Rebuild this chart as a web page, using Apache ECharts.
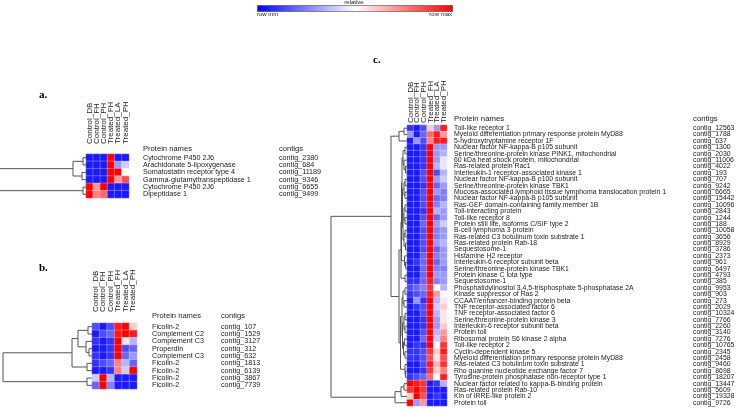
<!DOCTYPE html>
<html><head><meta charset="utf-8">
<script src="https://cdn.jsdelivr.net/npm/echarts@6/dist/echarts.min.js"></script>
<style>html,body{margin:0;padding:0;background:#fff}#c{width:745px;height:410px}</style>
</head><body><div id="c"></div>
<script>
const columns = ['Control_DB','Control_FH','Control_PH','Treated_FH','Treated_LA','Treated_PH'];

// Panel a
const proteinsA = ['Cytochrome P450 2J6','Arachidonate 5-lipoxygenase','Somatostatin receptor type 4','Gamma-glutamyltranspeptidase 1','Cytochrome P450 2J6','Dipeptidase 1'];
const contigsA = ['contig_2380','contig_684','contig_11189','contig_9346','contig_6655','contig_9499'];
const valuesA = [
  [0.05,0.05,0.05,1,0.05,0.05],
  [0.05,0.05,0.05,1,0.3,0.4],
  [0.05,0.05,0.05,1,1,0.5],
  [0.05,0.05,0.05,1,0.7,0.85],
  [1,0.7,1,0.05,0.05,0.05],
  [1,0.75,0.8,0.05,0.05,0.05]
];
const treeA = [100, [13,[3,0,1],[4,2,3]], [3,4,5]];

// Panel b
const proteinsB = ['Ficolin-2','Complement C2','Complement C3','Properdin','Complement C3','Ficolin-2','Ficolin-2','Ficolin-2','Ficolin-2'];
const contigsB = ['contig_107','contig_1529','contig_3127','contig_312','contig_632','contig_1813','contig_6139','contig_3867','contig_7739'];
const valuesB = [
  [0.15,0.05,0.15,0.95,1,0.6],
  [0.05,0.15,0.2,0.95,1,0.95],
  [0.1,0.05,0.1,1,0.55,0.35],
  [0.05,0.05,0.1,1,0.15,0.2],
  [0.1,0.05,0.1,1,0.2,0.3],
  [0.1,0.15,0.2,0.75,0.35,0.2],
  [0.05,0.05,0.1,0.75,0.4,1],
  [0.4,1,0.35,0.05,0.05,0.05],
  [0.2,1,0.25,0.05,0.05,0.05]
];
const treeB = [89, [20, [14, [4,0,1], [6,2,[3,3,4]]], [5,5,6]], [5,7,8]];

// Panel c
const proteinsC = ['Toll-like receptor 1','Myeloid differentiation primary response protein MyD88','5-hydroxytryptamine receptor 1F','Nuclear factor NF-kappa-B p105 subunit','Serine/threonine-protein kinase PINK1, mitochondrial','60 kDa heat shock protein, mitochondrial','Ras-related protein Rac1','Interleukin-1 receptor-associated kinase 1','Nuclear factor NF-kappa-B p100 subunit','Serine/threonine-protein kinase TBK1','Mucosa-associated lymphoid tissue lymphoma translocation protein 1','Nuclear factor NF-kappa-B p105 subunit','Ras-GEF domain-containing family member 1B','Toll-interacting protein','Toll-like receptor 8','Protein still life, isoforms C/SIF type 2','B-cell lymphoma 3 protein','Ras-related C3 botulinum toxin substrate 1','Ras-related protein Rab-18','Sequestosome-1','Histamine H2 receptor','Interleukin-6 receptor subunit beta','Serine/threonine-protein kinase TBK1','Protein kinase C iota type','Sequestosome-1','Phosphatidylinositol 3,4,5-trisphosphate 5-phosphatase 2A','Kinase suppressor of Ras 2','CCAAT/enhancer-binding protein beta','TNF receptor-associated factor 6','TNF receptor-associated factor 6','Serine/threonine-protein kinase 3','Interleukin-6 receptor subunit beta','Protein toll','Ribosomal protein S6 kinase 2 alpha','Toll-like receptor 2','Cyclin-dependent kinase 5','Myeloid differentiation primary response protein MyD88','Ras-related C3 botulinum toxin substrate 1','Rho guanine nucleotide exchange factor 7','Tyrosine-protein phosphatase non-receptor type 1','Nuclear factor related to kappa-B-binding protein','Ras-related protein Rab-10','Kin of IRRE-like protein 2','Protein toll'];
const contigsC = ['contig_12563','contig_1788','contig_637','contig_1300','contig_2030','contig_11006','contig_4022','contig_193','contig_707','contig_9242','contig_6665','contig_15442','contig_10096','contig_2843','contig_1244','contig_188','contig_10058','contig_3656','contig_8929','contig_3786','contig_2373','contig_961','contig_6497','contig_4793','contig_385','contig_9953','contig_903','contig_273','contig_2029','contig_10324','contig_7766','contig_2260','contig_3140','contig_7276','contig_10765','contig_2345','contig_2458','contig_9460','contig_8698','contig_18207','contig_13447','contig_5609','contig_19328','contig_9726'];
const valuesC = [
  [0.1,0.05,0.15,0.6,0.3,0.95],
  [0.3,0.05,0.2,0.8,0.95,0.7],
  [0.05,0.3,0.15,0.75,0.95,0.95],
  [0.05,0.05,0.1,1,0.3,0.3],
  [0.05,0.05,0.1,1,0.3,0.35],
  [0.05,0.05,0.1,1,0.3,0.45],
  [0.05,0.05,0.1,1,0.35,0.45],
  [0.05,0.05,0.15,1,0.15,0.35],
  [0.05,0.05,0.15,1,0.3,0.4],
  [0.05,0.05,0.1,1,0.2,0.3],
  [0.05,0.05,0.15,1,0.3,0.25],
  [0.05,0.05,0.15,1,0.2,0.25],
  [0.05,0.05,0.15,1,0.25,0.35],
  [0.05,0.05,0.1,1,0.35,0.3],
  [0.05,0.05,0.15,1,0.2,0.3],
  [0.05,0.05,0.2,1,0.3,0.4],
  [0.05,0.05,0.15,1,0.25,0.3],
  [0.05,0.05,0.15,1,0.25,0.3],
  [0.05,0.05,0.15,1,0.3,0.35],
  [0.05,0.05,0.15,1,0.2,0.3],
  [0.05,0.05,0.2,1,0.25,0.3],
  [0.05,0.1,0.2,1,0.2,0.3],
  [0.05,0.05,0.2,1,0.25,0.25],
  [0.05,0.05,0.2,1,0.3,0.3],
  [0.1,0.1,0.2,0.95,0.25,0.3],
  [0.15,0.2,0.25,0.9,0.5,0.35],
  [0.1,0.15,0.2,0.95,0.7,0.5],
  [0.05,0.3,0.1,1,0.35,0.55],
  [0.05,0.1,0.15,1,0.4,0.6],
  [0.05,0.05,0.15,1,0.35,0.55],
  [0.05,0.05,0.1,1,0.3,0.55],
  [0.05,0.05,0.1,1,0.3,0.6],
  [0.05,0.05,0.15,1,0.35,0.7],
  [0.05,0.05,0.2,1,0.4,0.75],
  [0.05,0.1,0.1,1,0.5,0.9],
  [0.1,0.1,0.15,0.9,0.6,0.95],
  [0.1,0.1,0.15,0.85,0.55,0.85],
  [0.05,0.05,0.15,0.95,0.65,0.9],
  [0.05,0.05,0.1,0.9,0.6,0.75],
  [0.1,0.15,0.2,0.8,0.5,0.95],
  [1,0.95,0.9,0.05,0.1,0.35],
  [0.9,1,0.9,0.05,0.05,0.05],
  [0.6,1,0.85,0.05,0.1,0.05],
  [1,0.3,0.7,0.05,0.05,0.05]
];
const treeC = [76,
  [16,
    [8, [3,0,1], 2],
    [8,
      [6,
        [5.5,
          [5, [4,[2,3,4],[3,5,[1.5,6,7]]], [4.5,[3,[2,8,9],[2,10,11]],[4,[3,[2,12,13],[2,14,15]],[3,[2,16,17],[1.5,18,19]]]]],
          [2.5,20,[1.5,21,22]]],
        [2,23,24]],
      [6.5,
        [5,[4,[2,25,26],[3,27,28]],[4.5,[3,[2,29,30],[2,31,32]],[3.5,[2.5,33,34],[2,35,36]]]],
        [2,37,[1.5,38,39]]]
    ]
  ],
  [12, [6,[3,40,41],42], 43]
];

const FONT = '"Liberation Sans", Arial, sans-serif';
const TXT = '#222';

function heatData(vals){
  const d=[]; vals.forEach((row,r)=>row.forEach((v,c)=>d.push([c,r,v]))); return d;
}
function dendroSegs(tree){
  const segs=[];
  function walk(n){
    if(typeof n==='number') return {y:n+0.5,h:0};
    const a=walk(n[1]), b=walk(n[2]), h=n[0];
    segs.push([a.h,a.y,h,a.y,h,b.y,b.h,b.y]);
    return {y:(a.y+b.y)/2,h:h};
  }
  walk(tree); return segs;
}

const panels = [
  {grid:{left:86,top:154,width:43,height:44}, rows:proteinsA, contigs:contigsA, vals:valuesA, tree:treeA, rowFont:7.2, colMargin:10, nameMargin:14, contigMargin:150},
  {grid:{left:92,top:323,width:45,height:66}, rows:proteinsB, contigs:contigsB, vals:valuesB, tree:treeB, rowFont:7.2, colMargin:11, nameMargin:15, contigMargin:84},
  {grid:{left:407,top:125,width:40,height:281}, rows:proteinsC, contigs:contigsC, vals:valuesC, tree:treeC, rowFont:6.9, colMargin:2, nameMargin:7, contigMargin:246}
];

const grid=[], xAxis=[], yAxis=[], series=[], heatIdx=[], heatX=[];
panels.forEach((p,i)=>{
  const gi = grid.length;
  grid.push(Object.assign({containLabel:false}, p.grid));
  const xi = xAxis.length;
  heatX.push(xi);
  xAxis.push({type:'category', gridIndex:gi, data:columns, position:'top',
    axisLine:{show:false}, axisTick:{show:false}, splitLine:{show:false}, axisLabel:{show:false}});
  const yi = yAxis.length;
  yAxis.push({type:'category', gridIndex:gi, data:p.rows, inverse:true, position:'right',
    axisLine:{show:false}, axisTick:{show:false}, splitLine:{show:false},
    axisLabel:{fontSize:p.rowFont, color:TXT, fontFamily:FONT, margin:p.nameMargin, interval:0}});
  yAxis.push({type:'category', gridIndex:gi, data:p.contigs, inverse:true, position:'right',
    axisLine:{show:false}, axisTick:{show:false}, splitLine:{show:false},
    axisLabel:{fontSize:p.rowFont, color:TXT, fontFamily:FONT, margin:p.contigMargin, interval:0}});
  heatIdx.push(series.length);
  series.push({type:'heatmap', xAxisIndex:xi, yAxisIndex:yi, data:heatData(p.vals),
    itemStyle:{borderColor:'rgba(255,255,255,0.45)', borderWidth:0.6}, silent:true});
  const dg = grid.length;
  grid.push({left:0, top:p.grid.top, width:p.grid.left, height:p.grid.height});
  const dx = xAxis.length;
  xAxis.push({type:'value', gridIndex:dg, min:0, max:p.grid.left, inverse:true, show:false});
  const dy = yAxis.length;
  yAxis.push({type:'value', gridIndex:dg, min:0, max:p.rows.length, inverse:true, show:false});
  series.push({type:'custom', xAxisIndex:dx, yAxisIndex:dy, clip:false, silent:true,
    data:dendroSegs(p.tree),
    encode:{x:[0,2,4,6], y:[1,3,5,7]},
    renderItem:function(params, api){
      const pts=[0,1,2,3].map(k=>api.coord([api.value(2*k), api.value(2*k+1)]));
      return {type:'polyline', shape:{points:pts}, style:{stroke:'#555', lineWidth:1, fill:null}};
    }});
});

function txt(x,y,t,opt){
  return {type:'text', x:x, y:y, silent:true, style:Object.assign({text:t, fill:TXT, font:'7.6px '+FONT, textVerticalAlign:'middle'}, opt||{})};
}

const graphics = [
  txt(354,2.5,'relative',{font:'6px '+FONT, textAlign:'center'}),
  txt(257,14.5,'row min',{font:'6px '+FONT}),
  txt(452,14.5,'row max',{font:'6px '+FONT, textAlign:'right'}),
  txt(39,95,'a.',{font:'bold 11px "Liberation Serif", serif', fill:'#000'}),
  txt(39,268,'b.',{font:'bold 11px "Liberation Serif", serif', fill:'#000'}),
  txt(373,60,'c.',{font:'bold 11px "Liberation Serif", serif', fill:'#000'}),
  txt(143,149,'Protein names'),
  txt(279,149,'contigs'),
  txt(152,316,'Protein names'),
  txt(221,316,'contigs'),
  txt(454,119,'Protein names',{font:'7.8px '+FONT}),
  txt(693,119,'contigs',{font:'7.8px '+FONT})
];

const option = {
  animation:false,
  backgroundColor:'#fff',
  grid, xAxis, yAxis, series,
  visualMap:{type:'continuous', min:0, max:1, orient:'horizontal', left:257, top:5,
    itemWidth:6, itemHeight:195, calculable:false, text:null, showLabel:false, seriesIndex:heatIdx,
    inRange:{color:['#0000ff','#ffffff','#ff0000']}, padding:0, borderColor:'#555', borderWidth:1,
    hoverLink:false},
  graphic:graphics
};
const chart = echarts.init(document.getElementById('c'), null, {renderer:'canvas'});
chart.setOption(option);

// Column labels placed at the column centres given by each heatmap's x axis
const colLabels = [];
panels.forEach((p,i)=>{
  columns.forEach((c)=>{
    const px = chart.convertToPixel({xAxisIndex:heatX[i]}, c);
    colLabels.push({type:'text', x:px, y:p.grid.top - p.colMargin, rotation:Math.PI/2, silent:true,
      style:{text:c, fill:TXT, font:'8px '+FONT, textAlign:'left', textVerticalAlign:'middle'}});
  });
});
chart.setOption({graphic:graphics.concat(colLabels)}, {replaceMerge:['graphic']});
</script></body></html>
